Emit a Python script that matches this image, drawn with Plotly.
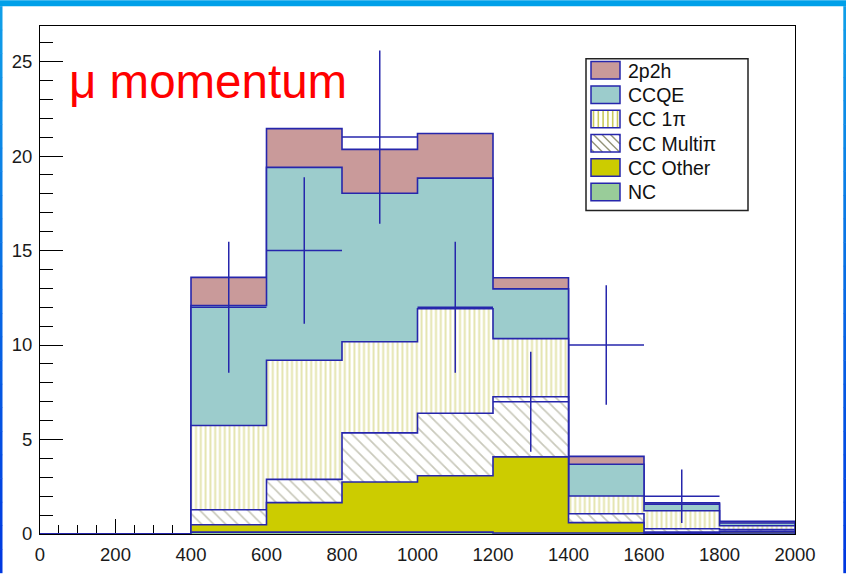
import numpy as np
import plotly.graph_objects as go

# ---- data -------------------------------------------------------------
bin_edges = [0, 200, 400, 600, 800, 1000, 1200, 1400, 1600, 1800, 2000]
bin_centers = [100, 300, 500, 700, 900, 1100, 1300, 1500, 1700, 1900]

# Monte Carlo components per bin (stacked bottom -> top)
nc         = [0, 0, 0.10, 0.10, 0.10, 0.10, 0.05, 0.05, 0.03, 0.05]
cc_other   = [0, 0, 0.39, 1.56, 2.65, 2.98, 4.03, 0.55, 0.07, 0.09]
cc_multipi = [0, 0, 0.79, 1.23, 2.60, 3.31, 3.18, 0.47, 0.18, 0.09]
cc_1pi     = [0, 0, 4.46, 6.30, 4.82, 5.53, 3.08, 0.94, 0.95, 0.21]
ccqe       = [0, 0, 6.35, 10.21, 7.86, 6.91, 2.63, 1.68, 0.35, 0.14]
two_p2h    = [0, 0, 1.49, 2.05, 2.32, 2.36, 0.59, 0.42, 0.07, 0.09]

# observed events
data_counts = [0, 0, 12, 15, 21, 12, 7, 10, 2, 0]

x_ticks = [0, 200, 400, 600, 800, 1000, 1200, 1400, 1600, 1800, 2000]
y_ticks = [0, 5, 10, 15, 20, 25]

# ---- styles -----------------------------------------------------------
OUTLINE = "#2626ac"
W, H = 846, 577
L, R, T, B = 40, 51, 26, 39
PW, PH = W - L - R, H - T - B
FONT = "Liberation Sans, Arial, Helvetica, sans-serif"

components = [
    ("NC",          nc,         dict(fillcolor="#99cc99")),
    ("CC Other",    cc_other,   dict(fillcolor="#cccc00")),
    ("CC Multi\u03c0", cc_multipi, dict(fillcolor="white",
        fillpattern=dict(shape="\\", fgcolor="#939378", bgcolor="white",
                         size=8.5, solidity=0.2))),
    ("CC 1\u03c0",  cc_1pi,     dict(fillcolor="white",
        fillpattern=dict(shape="|", fgcolor="#c9c95c", bgcolor="white",
                         size=4.8, solidity=0.4))),
    ("CCQE",        ccqe,       dict(fillcolor="#9ccccc")),
    ("2p2h",        two_p2h,    dict(fillcolor="#c99a9a")),
]

cumulative = np.cumsum(np.array([c[1] for c in components]), axis=0)

fig = go.Figure()

# Each stacked level is drawn as a filled step histogram from zero,
# largest sum first so the smaller ones sit on top.
for idx in range(len(components) - 1, -1, -1):
    name, _, style = components[idx]
    level = list(cumulative[idx])
    xs = bin_edges[:-1] + [bin_edges[-1], bin_edges[-1]]
    ys = level + [level[-1], 0]
    fig.add_trace(go.Scatter(
        x=xs, y=ys, mode="lines", line=dict(color=OUTLINE, width=1.6, shape="hv"),
        fill="tozeroy", name=name, showlegend=False, hoverinfo="skip", **style))

# data points with Poisson errors
dx = [c for c, n in zip(bin_centers, data_counts) if n > 0]
dy = [n for n in data_counts if n > 0]
fig.add_trace(go.Scatter(
    x=dx, y=dy, mode="markers", marker=dict(size=1, color=OUTLINE),
    error_x=dict(type="constant", value=100, width=0, color=OUTLINE, thickness=1.5),
    error_y=dict(type="data", array=list(np.sqrt(dy)), width=0, color=OUTLINE,
                 thickness=1.5),
    showlegend=False, name="Data"))


def px(X):
    return (X - L) / PW


def py(Y):
    return (T + PH - Y) / PH


shapes = []
annotations = []

# slide border strips (vertical gradient on the sides)
shapes.append(dict(type="rect", xref="paper", yref="paper", x0=px(0), x1=px(W),
                   y0=py(0), y1=py(6), fillcolor="#00a0e9", line=dict(width=0)))
n_seg = 24
c_top = np.array([0x10, 0xa0, 0xe8])
c_bot = np.array([0x00, 0x36, 0xe0])
for i in range(n_seg):
    f = (i + 0.5) / n_seg
    col = c_top * (1 - f) + c_bot * f
    colhex = "#%02x%02x%02x" % tuple(int(round(v)) for v in col)
    y0 = 6 + (H - 6) * i / n_seg
    y1 = 6 + (H - 6) * (i + 1) / n_seg + 0.5
    for xa, xb in ((0, 2.5), (843.3, W)):
        shapes.append(dict(type="rect", xref="paper", yref="paper",
                           x0=px(xa), x1=px(xb), y0=py(y1), y1=py(y0),
                           fillcolor=colhex, line=dict(width=0), layer="above"))

# legend box
LX0, LX1, LY0, LY1 = 586, 748, 59, 212
shapes.append(dict(type="rect", xref="paper", yref="paper", x0=px(LX0), x1=px(LX1),
                   y0=py(LY1), y1=py(LY0), fillcolor="white",
                   line=dict(color="#222222", width=1.5), layer="above"))

row0, row_step = 70.7, 24.5
SX0, SX1, SH = 591, 620, 8.8
legend_order = list(reversed(components))
for i, (name, _, style) in enumerate(legend_order):
    cy = row0 + row_step * i
    fill = style.get("fillcolor", "white")
    shapes.append(dict(type="rect", xref="paper", yref="paper",
                       x0=px(SX0), x1=px(SX1), y0=py(cy + SH), y1=py(cy - SH),
                       fillcolor=fill, line=dict(width=0), layer="above"))
    pat = style.get("fillpattern")
    if pat is not None and pat["shape"] == "|":
        xx = SX0 + 2.5
        while xx < SX1:
            shapes.append(dict(type="line", xref="paper", yref="paper",
                               x0=px(xx), x1=px(xx), y0=py(cy + SH), y1=py(cy - SH),
                               line=dict(color=pat["fgcolor"], width=1.6), layer="above"))
            xx += 4.8
    elif pat is not None:
        # "\" hatch clipped to the swatch
        top, bot = cy - SH, cy + SH
        k = SX0 - (bot - top) + 3
        while k < SX1:
            xa, ya = k, top
            xb, yb = k + (bot - top), bot
            if xa < SX0:
                ya += SX0 - xa
                xa = SX0
            if xb > SX1:
                yb -= xb - SX1
                xb = SX1
            if xb > xa:
                shapes.append(dict(type="line", xref="paper", yref="paper",
                                   x0=px(xa), x1=px(xb), y0=py(ya), y1=py(yb),
                                   line=dict(color=pat["fgcolor"], width=1.4),
                                   layer="above"))
            k += 8.5
    shapes.append(dict(type="rect", xref="paper", yref="paper",
                       x0=px(SX0), x1=px(SX1), y0=py(cy + SH), y1=py(cy - SH),
                       fillcolor="rgba(0,0,0,0)", line=dict(color=OUTLINE, width=1.5),
                       layer="above"))
    annotations.append(dict(xref="paper", yref="paper", x=px(626), y=py(cy + 0.5),
                            xanchor="left", yanchor="middle", showarrow=False,
                            text=name, font=dict(family=FONT, size=19.5, color="#111111")))

annotations.append(dict(xref="paper", yref="paper", x=px(67), y=py(82),
                        xanchor="left", yanchor="middle", showarrow=False,
                        text="\u03bc momentum",
                        font=dict(family=FONT, size=47.5, color="#ff0000")))

fig.update_layout(
    width=W, height=H,
    margin=dict(l=L, r=R, t=T, b=B, pad=0),
    paper_bgcolor="white", plot_bgcolor="white",
    showlegend=False,
    shapes=shapes, annotations=annotations,
    font=dict(family=FONT, size=18, color="#1a1a1a"),
    xaxis=dict(range=[0, 2000], tickvals=x_ticks, ticks="inside", ticklen=15,
               tickwidth=1, tickcolor="black", showline=True, linecolor="black",
               linewidth=1, mirror=True, showgrid=False, zeroline=False,
               layer="below traces", ticklabelstandoff=4,
               minor=dict(ticks="inside", ticklen=9, dtick=50, tick0=0,
                          tickcolor="black", showgrid=False),
               tickfont=dict(size=18.5)),
    yaxis=dict(range=[0, 26.88], tickvals=y_ticks, ticks="inside", ticklen=23,
               tickwidth=1, tickcolor="black", showline=True, linecolor="black",
               linewidth=1, mirror=True, showgrid=False, zeroline=False,
               layer="below traces", ticklabelstandoff=3,
               minor=dict(ticks="inside", ticklen=13, dtick=1, tick0=0,
                          tickcolor="black", showgrid=False),
               tickfont=dict(size=18.5)),
)

fig.write_html("out.html")
